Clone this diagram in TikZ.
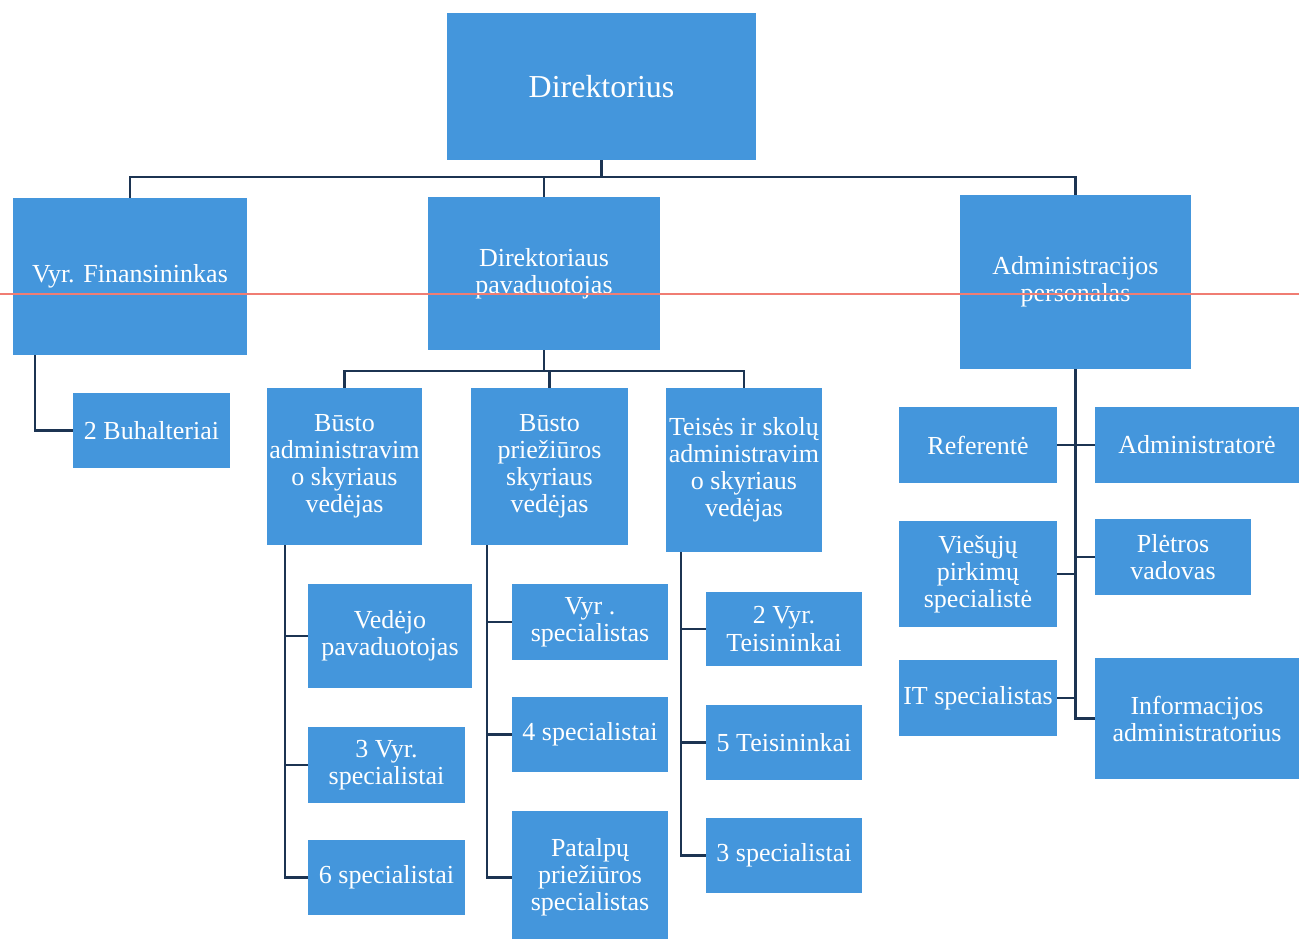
\documentclass[tikz,border=0pt]{standalone}
\usepackage{fontspec}
\setmainfont{Liberation Serif}
\usetikzlibrary{positioning}
\definecolor{boxblue}{RGB}{68,150,220}
\definecolor{linenavy}{RGB}{28,52,82}
\definecolor{scanred}{RGB}{240,125,115}
\tikzset{
  dims/.style 2 args={minimum width=#1*0.02cm, minimum height=#2*0.02cm},
  post/.style={rectangle, fill=boxblue, text=white, align=center, inner sep=0pt,
    font=\fontsize{14.8}{15.4}\selectfont},
  conn/.style={draw=linenavy, line width=1.3pt},
}
\begin{document}
\begin{tikzpicture}[x=0.02cm, y=-0.02cm]
        \useasboundingbox (0,0) rectangle (1299,939);
        \node[post, dims={309}{147}, font=\fontsize{18.2}{20}\selectfont] (dir) at (601.5,86.5) {Direktorius};
        \node[post, dims={234}{157}] (fin) at (130,276.5) {Vyr. Finansininkas};
        \node[post, dims={232}{153}] (dep) at (544,273.5) {Direktoriaus\\pavaduotojas};
        \node[post, dims={231}{174}] (adm) at (1075.5,282) {Administracijos\\personalas};
        \node[post, dims={157}{75}] (buh) at (151.5,430.5) {2 Buhalteriai};

        \node[post, dims={155}{157}] (ba) at (344.5,466.5) {Būsto\\administravim\\o skyriaus\\vedėjas};
        \node[post, dims={157}{157}] (bp) at (549.5,466.5) {Būsto\\priežiūros\\skyriaus\\vedėjas};
        \node[post, dims={156}{164}] (ts) at (744,470) {Teisės ir skolų\\administravim\\o skyriaus\\vedėjas};

        \node[post, dims={164}{104}] (ba1) at (390,636) {Vedėjo\\pavaduotojas};
        \node[post, dims={157}{76}] (ba2) at (386.5,765) {3 Vyr.\\specialistai};
        \node[post, dims={157}{75}] (ba3) at (386.5,877.5) {6 specialistai};
        \node[post, dims={156}{76}] (bp1) at (590,622) {Vyr .\\specialistas};
        \node[post, dims={156}{75}] (bp2) at (590,734.5) {4 specialistai};
        \node[post, dims={156}{133}] (bp3) at (590,877.5) {Patalpų\\priežiūros\\specialistas};
        \node[post, dims={156}{74}] (ts1) at (784,629) {2 Vyr.\\Teisininkai};
        \node[post, dims={156}{75}] (ts2) at (784,742.5) {5 Teisininkai};
        \node[post, dims={156}{75}] (ts3) at (784,855.5) {3 specialistai};

        \node[post, dims={158}{76}] (ref) at (978,445) {Referentė};
        \node[post, dims={204}{76}] (admr) at (1197,445) {Administratorė};
        \node[post, dims={158}{106}] (vie) at (978,574) {Viešųjų\\pirkimų\\specialistė};
        \node[post, dims={156}{76}] (ple) at (1173,557) {Plėtros\\vadovas};
        \node[post, dims={158}{76}] (it) at (978,698) {IT specialistas};
        \node[post, dims={204}{121}] (inf) at (1197,718.5) {Informacijos\\administratorius};

        \coordinate (bus1) at (0,177);
        \coordinate (bus2) at (0,371);
        \draw[conn] (dir.south) -- (dir.south |- bus1);
        \draw[conn] (fin.north) |- (bus1 -| adm.north) -- (adm.north);
        \draw[conn] (dep.north) -- (dep.north |- bus1);
        \draw[conn] ([xshift=22*0.02cm]fin.south west) |- (buh.west);

        \draw[conn] (dep.south) -- (dep.south |- bus2);
        \draw[conn] (ba.north) |- (bus2 -| ts.north) -- (ts.north);
        \draw[conn] (bp.north) -- (bp.north |- bus2);

        \coordinate (t1) at ([xshift=18*0.02cm]ba.south west);
        \coordinate (t2) at ([xshift=16*0.02cm]bp.south west);
        \coordinate (t3) at ([xshift=15*0.02cm]ts.south west);
        \draw[conn] (t1) |- (ba3.west);
        \draw[conn] (t2) |- (bp3.west);
        \draw[conn] (t3) |- (ts3.west);
        \foreach \n in {ba1,ba2} \draw[conn] (\n.west) -- (\n.west -| t1);
        \foreach \n in {bp1,bp2} \draw[conn] (\n.west) -- (\n.west -| t2);
        \foreach \n in {ts1,ts2} \draw[conn] (\n.west) -- (\n.west -| t3);

        \draw[conn] (adm.south) |- (inf.west);
        \foreach \n in {ref,vie,it} \draw[conn] (\n.east) -- (\n.east -| adm.south);
        \foreach \n in {admr,ple} \draw[conn] (\n.west) -- (\n.west -| adm.south);

        \draw[scanred, line width=1.2pt] (0,294) -- (1299,294);
    \end{tikzpicture}
\end{document}
